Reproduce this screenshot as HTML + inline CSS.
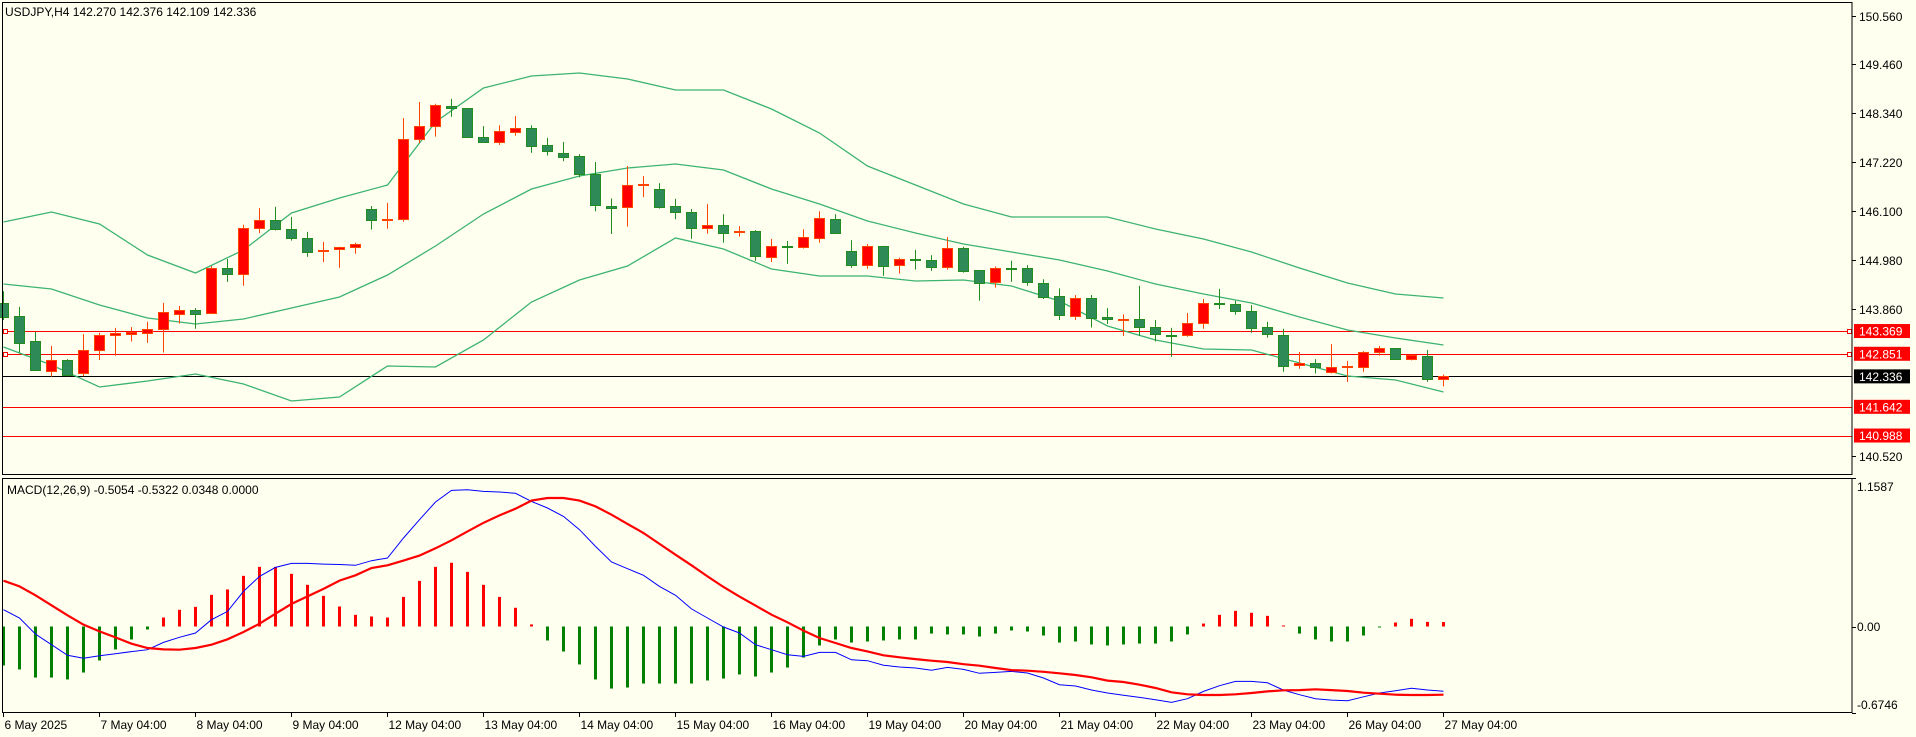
<!DOCTYPE html>
<html><head><meta charset="utf-8"><title>USDJPY H4</title>
<style>
html,body{margin:0;padding:0;background:#fffff0;}
svg{display:block;font-family:"Liberation Sans",sans-serif;}
</style></head>
<body>
<svg id="chart" width="1916" height="737" viewBox="0 0 1916 737" xmlns="http://www.w3.org/2000/svg">
<rect x="0" y="0" width="1916" height="737" fill="#fffff0"/>
<g id="main"></g>
<g id="macd"></g>
<g id="axes"></g>
<rect x="2.5" y="2.5" width="1849.5" height="472" fill="none" stroke="#000"/>
<rect x="2.5" y="478.5" width="1849.5" height="234" fill="none" stroke="#000"/>
<text x="5" y="16" font-size="12" fill="#000">USDJPY,H4  142.270 142.376 142.109 142.336</text>
<text x="7" y="494" font-size="12" fill="#000">MACD(12,26,9) -0.5054 -0.5322 0.0348 0.0000</text>
</svg>
<script>
const opens=[144.01,143.71,143.14,142.48,142.72,142.41,142.92,143.27,143.31,143.33,143.41,143.76,143.84,143.77,144.80,144.66,145.71,145.89,145.69,145.48,145.19,145.23,145.28,146.14,145.91,145.91,147.74,148.04,148.49,148.45,147.80,147.69,147.91,147.99,147.60,147.42,147.35,146.94,146.23,146.18,146.68,146.60,146.21,146.08,145.72,145.78,145.61,145.64,145.06,145.31,145.29,145.50,145.92,145.19,144.88,145.31,144.87,145.00,144.98,144.83,145.26,144.75,144.47,144.81,144.80,144.46,144.16,143.72,144.12,143.68,143.63,143.64,143.45,143.29,143.27,143.55,144.00,143.98,143.83,143.45,143.29,142.58,142.63,142.42,142.54,142.54,142.88,142.98,142.72,142.79,142.270];
const highs=[144.28,143.92,143.35,143.03,142.73,143.30,143.33,143.44,143.46,143.58,144.01,143.94,143.89,144.85,145.01,145.79,146.17,146.20,145.97,145.63,145.40,145.29,145.38,146.22,146.29,148.22,148.59,148.55,148.66,148.45,148.04,148.06,148.27,148.06,147.77,147.68,147.40,147.22,146.39,147.13,146.90,146.74,146.38,146.15,146.26,146.03,145.76,145.67,145.47,145.42,145.69,146.10,146.03,145.44,145.35,145.31,145.04,145.22,145.10,145.51,145.29,144.76,144.84,144.97,144.87,144.55,144.34,144.19,144.19,143.89,143.75,144.40,143.62,143.44,143.78,144.10,144.33,144.06,143.96,143.58,143.42,142.89,142.73,143.07,142.69,142.91,143.03,142.98,142.85,142.94,142.376];
const lows=[143.62,142.88,142.46,142.33,142.34,142.34,142.71,142.81,143.13,143.10,142.88,143.54,143.42,143.76,144.49,144.40,145.60,145.66,145.43,145.06,144.94,144.81,145.13,145.68,145.70,145.86,147.65,147.80,148.25,147.78,147.69,147.61,147.82,147.43,147.37,147.24,146.87,146.10,145.58,145.75,146.42,146.16,145.92,145.47,145.59,145.38,145.52,144.97,144.94,144.90,145.25,145.38,145.59,144.81,144.79,144.63,144.68,144.77,144.74,144.77,144.70,144.06,144.36,144.49,144.40,144.10,143.62,143.62,143.45,143.53,143.26,143.26,143.13,142.78,143.24,143.42,143.87,143.74,143.33,143.22,142.44,142.51,142.40,142.40,142.21,142.44,142.81,142.71,142.70,142.21,142.109];
const closes=[143.69,143.10,142.48,142.72,142.37,142.93,143.27,143.32,143.35,143.41,143.80,143.84,143.76,144.80,144.66,145.71,145.89,145.68,145.48,145.16,145.22,145.28,145.35,145.89,145.92,147.74,148.04,148.52,148.45,147.80,147.69,147.93,147.99,147.59,147.46,147.34,146.93,146.23,146.19,146.69,146.71,146.20,146.07,145.72,145.78,145.59,145.64,145.06,145.31,145.29,145.51,145.95,145.59,144.88,145.31,144.86,145.00,144.97,144.81,145.26,144.74,144.46,144.80,144.78,144.48,144.15,143.72,144.12,143.67,143.63,143.64,143.45,143.29,143.27,143.55,144.00,143.97,143.83,143.45,143.29,142.58,142.63,142.53,142.54,142.57,142.89,142.98,142.72,142.82,142.26,142.336];
const bandBars=[0,3,6,9,12,15,18,21,24,27,30,33,36,39,42,45,48,51,54,57,60,63,66,69,72,75,78,81,84,87,90];
const bandUpper=[145.854,146.082,145.808,145.102,144.691,145.216,146.059,146.401,146.697,148.133,148.908,149.181,149.249,149.113,148.862,148.862,148.429,147.882,147.130,146.697,146.264,145.968,145.968,145.968,145.694,145.466,145.170,144.805,144.463,144.213,144.122];
const bandMiddle=[144.441,144.327,143.962,143.666,143.529,143.643,143.894,144.144,144.646,145.307,146.036,146.606,146.902,147.084,147.175,147.039,146.606,146.264,145.876,145.603,145.352,145.170,144.988,144.737,144.441,144.213,144.008,143.689,143.392,143.210,143.050];
const bandLower=[143.005,142.595,142.093,142.230,142.390,142.162,141.774,141.865,142.572,142.549,143.164,144.030,144.532,144.851,145.489,145.238,144.783,144.623,144.623,144.509,144.532,144.395,144.053,143.484,143.164,142.959,142.936,142.640,142.344,142.253,141.980];
const macdLine=[0.131,0.066,-0.059,-0.142,-0.225,-0.248,-0.228,-0.212,-0.196,-0.181,-0.124,-0.084,-0.051,0.053,0.118,0.274,0.391,0.461,0.492,0.492,0.487,0.484,0.477,0.513,0.534,0.690,0.833,0.971,1.062,1.067,1.054,1.049,1.039,0.976,0.924,0.859,0.755,0.625,0.503,0.451,0.399,0.313,0.243,0.137,0.066,-0.004,-0.051,-0.142,-0.181,-0.220,-0.233,-0.202,-0.202,-0.260,-0.267,-0.302,-0.316,-0.324,-0.342,-0.319,-0.335,-0.365,-0.358,-0.350,-0.363,-0.402,-0.454,-0.464,-0.495,-0.519,-0.537,-0.553,-0.571,-0.592,-0.563,-0.506,-0.462,-0.428,-0.428,-0.439,-0.496,-0.532,-0.563,-0.574,-0.579,-0.548,-0.519,-0.501,-0.482,-0.495,-0.5054];
const signalLine=[0.357,0.313,0.243,0.165,0.087,0.014,-0.038,-0.085,-0.134,-0.168,-0.179,-0.181,-0.168,-0.142,-0.100,-0.043,0.022,0.100,0.176,0.235,0.293,0.358,0.399,0.456,0.477,0.514,0.553,0.610,0.672,0.742,0.809,0.867,0.919,0.982,1.002,1.002,0.982,0.937,0.872,0.800,0.729,0.644,0.560,0.477,0.391,0.308,0.233,0.163,0.092,0.033,-0.032,-0.090,-0.129,-0.168,-0.194,-0.225,-0.240,-0.254,-0.267,-0.277,-0.294,-0.306,-0.324,-0.340,-0.345,-0.353,-0.365,-0.378,-0.396,-0.422,-0.433,-0.454,-0.480,-0.513,-0.529,-0.534,-0.534,-0.529,-0.519,-0.506,-0.498,-0.496,-0.490,-0.496,-0.503,-0.516,-0.524,-0.532,-0.534,-0.534,-0.5322];
const histValues=[-0.304,-0.335,-0.398,-0.398,-0.413,-0.359,-0.265,-0.179,-0.101,-0.023,0.070,0.130,0.153,0.247,0.289,0.395,0.465,0.465,0.411,0.325,0.239,0.156,0.091,0.078,0.070,0.231,0.356,0.465,0.497,0.426,0.325,0.231,0.146,0.016,-0.109,-0.195,-0.296,-0.413,-0.484,-0.476,-0.445,-0.445,-0.445,-0.445,-0.421,-0.406,-0.374,-0.390,-0.359,-0.320,-0.242,-0.148,-0.101,-0.125,-0.117,-0.109,-0.101,-0.101,-0.055,-0.062,-0.062,-0.078,-0.055,-0.031,-0.039,-0.070,-0.125,-0.117,-0.140,-0.148,-0.140,-0.133,-0.133,-0.117,-0.062,0.023,0.091,0.122,0.107,0.083,0.008,-0.055,-0.101,-0.117,-0.117,-0.070,-0.005,0.031,0.060,0.036,0.0348];
const priceTicks=[150.560,149.460,148.340,147.220,146.100,144.980,143.860,140.520];
const priceTickLabels=["150.560","149.460","148.340","147.220","146.100","144.980","143.860","140.520"];
const levelPrices=[143.369,142.851,141.642,140.988];
const levelLabels=["143.369","142.851","141.642","140.988"];
const currentPrice=142.336;
const currentLabel="142.336";
const macdTicks=[1.1587,0.0,-0.6746];
const macdTickLabels=["1.1587","0.00","-0.6746"];
const timeLabels=["6 May 2025","7 May 04:00","8 May 04:00","9 May 04:00","12 May 04:00","13 May 04:00","14 May 04:00","15 May 04:00","16 May 04:00","19 May 04:00","20 May 04:00","21 May 04:00","22 May 04:00","23 May 04:00","26 May 04:00","27 May 04:00"];
const timeLabelBars=[0,6,12,18,24,30,36,42,48,54,60,66,72,78,84,90];

const NS="http://www.w3.org/2000/svg";
const yP=p=>15.5+(150.56-p)*43.88;
const xB=k=>3.5+16*k;
const yM=v=>626.5-v*128.2;
function mk(tag,parent,attrs){const e=document.createElementNS(NS,tag);for(const k in attrs)e.setAttribute(k,attrs[k]);parent.appendChild(e);return e;}
const main=document.getElementById('main');
const macd=document.getElementById('macd');
const axes=document.getElementById('axes');

// level lines
levelPrices.forEach((p,i)=>{
  const y=Math.round(yP(p))+0.5;
  const l=mk('line',main,{x1:3,x2:1852,y1:y,y2:y,stroke:'#ff0000','stroke-width':1});
  
  
  if(i<2){
    const s1=mk('rect',main,{x:3.5,y:y-2,width:4,height:4,fill:'#fffff0',stroke:'#ff0000'});
    
    
    const s2=mk('rect',main,{x:1847.5,y:y-2,width:4,height:4,fill:'#fffff0',stroke:'#ff0000'});
    
    
  }
});
{
  const y=Math.round(yP(currentPrice))+0.5;
  const l=mk('line',main,{x1:3,x2:1852,y1:y,y2:y,stroke:'#000','stroke-width':1});
  
  
}
// bands
[[bandUpper,'bollinger-upper'],[bandMiddle,'bollinger-middle'],[bandLower,'bollinger-lower']].forEach(([arr,name])=>{
  const pts=arr.map((v,i)=>xB(bandBars[i])+','+yP(v).toFixed(1)).join(' ');
  const pl=mk('polyline',main,{points:pts,fill:'none',stroke:'#3cb371','stroke-width':1.3});
  
  
});
// candles
for(let k=0;k<opens.length;k++){
  const o=opens[k],h=highs[k],l=lows[k],c=closes[k];
  const up=c>=o;
  const edge=up?'#ff4500':'#228b22';
  const fill=up?'#ff0000':'#2e8b57';
  const x=xB(k);
  const w=mk('line',main,{x1:x,x2:x,y1:yP(h),y2:yP(l),stroke:edge,'stroke-width':1});
  
  
  const top=yP(Math.max(o,c)),bot=yP(Math.min(o,c));
  const b=mk('rect',main,{x:x-5,y:Math.round(top)+0.5,width:10,height:Math.max(1,Math.round(bot-top)),fill:fill,stroke:edge,'stroke-width':1});
  
  
}
// macd histogram
histValues.forEach((v,k)=>{
  const y0=yM(0),y1=yM(v);
  const r=mk('rect',macd,{x:xB(k)-1.5,y:Math.min(y0,y1),width:3,height:Math.max(1,Math.abs(y1-y0)),fill:v>=0?'#ff0000':'#008000'});
  
  
});
{
  const p1=mk('polyline',macd,{points:macdLine.map((v,k)=>xB(k)+','+yM(v).toFixed(1)).join(' '),fill:'none',stroke:'#0000ff','stroke-width':1});
  
  
  const p2=mk('polyline',macd,{points:signalLine.map((v,k)=>xB(k)+','+yM(v).toFixed(1)).join(' '),fill:'none',stroke:'#ff0000','stroke-width':2.2});
  
  
}
// price axis
priceTicks.forEach((p,i)=>{
  const y=Math.round(yP(p))+0.5;
  const t=mk('line',axes,{x1:1852,x2:1856,y1:y,y2:y,stroke:'#000'});
  
  
  const tx=mk('text',axes,{x:1859,y:y+4.5,'font-size':12,fill:'#000'});
  tx.textContent=priceTickLabels[i];
  
  
});
function tag(p,label,bg,name){
  const y=yP(p);
  const r=mk('rect',axes,{x:1854,y:y-7,width:56,height:14,fill:bg});
  
  
  const tx=mk('text',axes,{x:1859,y:y+4.5,'font-size':12,fill:'#fff'});
  tx.textContent=label;
  
  
}
levelPrices.forEach((p,i)=>tag(p,levelLabels[i],'#ff0000','level-price-tag'));
tag(currentPrice,currentLabel,'#000','current-price-tag');
// macd axis
macdTicks.forEach((v,i)=>{
  const y=yM(v);
  const t=mk('line',axes,{x1:1852,x2:1856,y1:Math.round(y)+0.5,y2:Math.round(y)+0.5,stroke:'#000'});
  
  
  let ty=y+4.5; if(i===0) ty=y+13; if(i===2) ty=y-4;
  const tx=mk('text',axes,{x:1857,y:ty,'font-size':12,fill:'#000'});
  tx.textContent=macdTickLabels[i];
  
  
});
// time axis
timeLabels.forEach((s,i)=>{
  const x=Math.round(xB(timeLabelBars[i]))-0.5;
  const t=mk('line',axes,{x1:x,x2:x,y1:713,y2:717,stroke:'#000'});
  
  
  const tx=mk('text',axes,{x:x+1,y:729,'font-size':12,fill:'#000'});
  tx.textContent=s;
  
  
});
</script>
</body></html>
